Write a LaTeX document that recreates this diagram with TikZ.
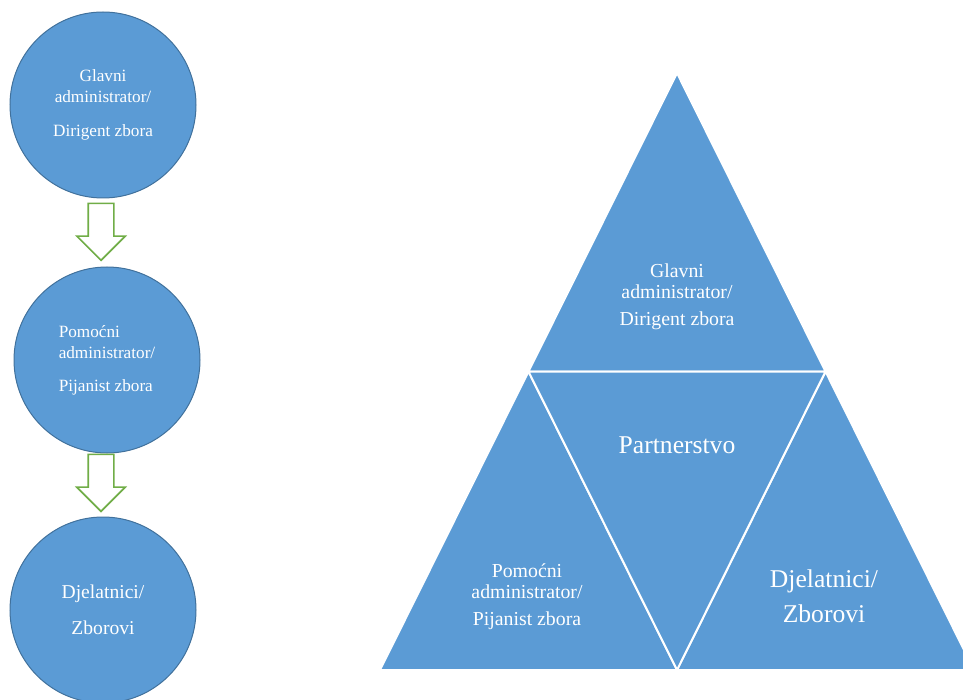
\documentclass[tikz,border=0pt]{standalone}
\usepackage{fontspec}
\setmainfont{Liberation Serif}
\usetikzlibrary{calc}
\usetikzlibrary{shapes.arrows}

\definecolor{officeblue}{RGB}{91,155,213}
\definecolor{officeline}{RGB}{65,113,156}
\definecolor{officegreen}{RGB}{112,173,71}

\tikzset{
  krug/.style={circle, fill=officeblue, draw=officeline, line width=.5pt,
    minimum size=93pt, inner sep=0pt, text=white,
    font=\fontsize{8.6}{10.5}\selectfont},
  strelica/.style={single arrow, draw=officegreen, fill=white, line width=.8pt,
    minimum height=28.5pt, inner sep=6pt, single arrow head extend=5.75pt,
    shape border rotate=270, anchor=tip},
  dio/.style={fill=officeblue, draw=white, line width=1pt},
  natpis/.style={text=white, align=center, font=\fontsize{9.9}{10.5}\selectfont},
}

\begin{document}
\begin{tikzpicture}[x=.5pt,y=-.5pt]
      \clip (0,0) rectangle (963,700);

      % hierarchy on the left
      \node[krug, align=center] (glavni) at (103,105) {Glavni\\administrator/\\[6.5pt]Dirigent zbora};
      \node[krug, align=left] (pomocni) at (107,360) {Pomoćni\\administrator/\\[6pt]Pijanist zbora};
      \node[krug, align=center, font=\fontsize{9.8}{18}\selectfont] (djelatnici) at (103,610) {Djelatnici/\\Zborovi};

      \node[strelica] (s1) at ($(pomocni.north)+(-6,-5)$) {};
      \node[strelica] (s2) at ($(djelatnici.north)+(-2,-4)$) {};

      % partnership triangle
      \coordinate (vrh) at (677,73);
      \coordinate (lijevo) at (380,670);
      \coordinate (desno) at (974,670);
      \coordinate (ml) at ($(vrh)!.5!(lijevo)$);
      \coordinate (mr) at ($(vrh)!.5!(desno)$);
      \coordinate (md) at ($(lijevo)!.5!(desno)$);

      \filldraw[dio] (vrh) -- (ml) -- (mr) -- cycle;
      \filldraw[dio] (ml) -- (lijevo) -- (md) -- cycle;
      \filldraw[dio] (mr) -- (md) -- (desno) -- cycle;
      \filldraw[dio] (ml) -- (mr) -- (md) -- cycle;

      \node[natpis] (gore) at (677,297) {Glavni\\administrator/\\[3pt]Dirigent zbora};
      \node[natpis] (lijevi) at (527,597) {Pomoćni\\administrator/\\[3pt]Pijanist zbora};
      \node[natpis, font=\fontsize{12.8}{15}\selectfont] (partner) at (677,445) {Partnerstvo};
      \node[natpis, font=\fontsize{12.8}{17.5}\selectfont] (desni) at (824,596) {Djelatnici/\\Zborovi};
\end{tikzpicture}
\end{document}
